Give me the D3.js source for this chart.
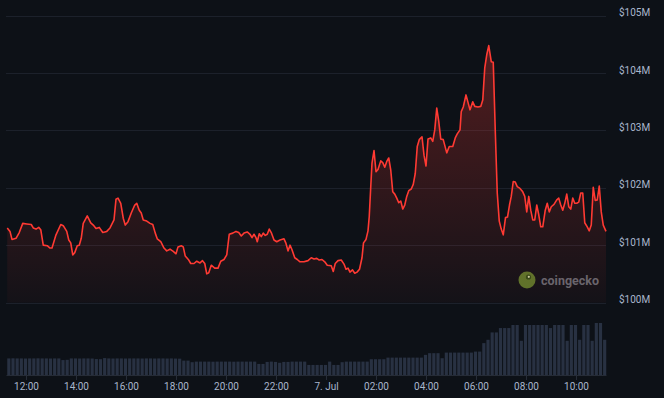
<!DOCTYPE html>
<html>
<head>
<meta charset="utf-8">
<script src="https://cdn.jsdelivr.net/npm/d3@7"></script>
<style>
  html, body { margin: 0; padding: 0; background: #0d1117; }
  svg { display: block; font-family: Roboto, "Liberation Sans", sans-serif; }
</style>
</head>
<body>
<svg></svg>
<script>
const width = 664;
const height = 398;

// hours after 12:00 on 6 Jul
const hours = [
  -0.75, -0.64, -0.56, -0.40, -0.27, -0.13, 0.03, 0.21, 0.29, 0.40, 0.51, 0.59, 0.69, 0.85, 0.96, 1.04,
  1.20, 1.39, 1.49, 1.63, 1.71, 1.79, 1.87, 1.95, 2.05, 2.13, 2.21, 2.29, 2.45, 2.59, 2.69, 2.80,
  2.93, 3.07, 3.23, 3.36, 3.52, 3.60, 3.68, 3.79, 3.89, 3.97, 4.08, 4.21, 4.35, 4.43, 4.53, 4.61,
  4.69, 4.83, 4.96, 5.07, 5.17, 5.25, 5.39, 5.52, 5.63, 5.76, 5.89, 6.00, 6.08, 6.21, 6.29, 6.37,
  6.51, 6.59, 6.72, 6.83, 6.96, 7.06, 7.15, 7.23, 7.31, 7.41, 7.55, 7.68, 7.79, 7.92, 8.03, 8.13,
  8.27, 8.40, 8.51, 8.61, 8.72, 8.85, 8.96, 9.04, 9.12, 9.20, 9.25, 9.33, 9.41, 9.49, 9.57, 9.65,
  9.73, 9.81, 9.92, 10.03, 10.16, 10.32, 10.40, 10.48, 10.56, 10.64, 10.75, 10.85, 10.96, 11.12, 11.28, 11.41,
  11.52, 11.63, 11.73, 11.84, 11.95, 12.05, 12.21, 12.29, 12.37, 12.48, 12.61, 12.72, 12.80, 12.88, 12.96, 13.06,
  13.15, 13.24, 13.34, 13.44, 13.50, 13.60, 13.68, 13.73, 13.79, 13.84, 13.92, 14.00, 14.08, 14.19, 14.27, 14.35,
  14.43, 14.51, 14.59, 14.67, 14.75, 14.83, 14.91, 14.99, 15.07, 15.15, 15.23, 15.31, 15.41, 15.49, 15.57, 15.65,
  15.73, 15.84, 15.92, 16.00, 16.08, 16.19, 16.27, 16.35, 16.43, 16.51, 16.59, 16.69, 16.83, 16.93, 17.07, 17.17,
  17.25, 17.36, 17.41, 17.49, 17.60, 17.68, 17.76, 17.87, 17.95, 18.08, 18.19, 18.27, 18.35, 18.43, 18.51, 18.61,
  18.69, 18.77, 18.85, 18.93, 19.01, 19.09, 19.18, 19.26, 19.34, 19.41, 19.49, 19.57, 19.65, 19.76, 19.87, 19.95,
  20.03, 20.11, 20.19, 20.27, 20.35, 20.43, 20.51, 20.59, 20.67, 20.77, 20.85, 20.93, 21.01, 21.12, 21.23, 21.31,
  21.39, 21.47, 21.55, 21.63, 21.71, 21.79, 21.87, 21.95, 22.03, 22.11, 22.19, 22.27, 22.35, 22.45, 22.53, 22.61,
  22.69, 22.77, 22.85, 22.93, 23.01, 23.09, 23.20
];

// market cap, $M
const price = [
  101.30, 101.24, 101.10, 101.12, 101.22, 101.38, 101.37, 101.36, 101.30, 101.28, 101.31, 101.27, 101.00, 100.99, 100.95, 100.95,
  101.18, 101.36, 101.34, 101.24, 101.09, 101.04, 100.83, 100.87, 100.99, 101.00, 101.12, 101.38, 101.51, 101.39, 101.35, 101.29,
  101.31, 101.22, 101.24, 101.30, 101.44, 101.80, 101.82, 101.73, 101.47, 101.35, 101.41, 101.56, 101.70, 101.73, 101.61, 101.56,
  101.44, 101.42, 101.38, 101.36, 101.21, 101.11, 101.06, 100.95, 100.90, 100.93, 100.89, 100.85, 100.97, 100.99, 100.97, 100.81,
  100.74, 100.68, 100.68, 100.72, 100.69, 100.73, 100.68, 100.50, 100.52, 100.65, 100.60, 100.60, 100.72, 100.75, 100.83, 101.19,
  101.21, 101.24, 101.22, 101.16, 101.21, 101.23, 101.19, 101.13, 101.19, 101.13, 101.06, 101.20, 101.15, 101.21, 101.17, 101.19,
  101.28, 101.22, 101.09, 101.06, 101.09, 101.11, 101.03, 100.90, 101.00, 100.92, 100.78, 100.75, 100.71, 100.71, 100.73, 100.78,
  100.76, 100.77, 100.74, 100.75, 100.71, 100.65, 100.64, 100.54, 100.68, 100.73, 100.74, 100.67, 100.58, 100.60, 100.53, 100.57,
  100.51, 100.53, 100.58, 100.78, 101.04, 101.10, 101.25, 101.50, 102.02, 102.43, 102.65, 102.28, 102.32, 102.47, 102.44, 102.36,
  102.46, 102.52, 102.31, 101.93, 101.89, 101.82, 101.74, 101.77, 101.63, 101.70, 101.85, 101.95, 101.98, 102.06, 102.25, 102.72,
  102.84, 102.89, 102.57, 102.38, 102.85, 102.87, 102.81, 103.01, 103.39, 103.16, 102.85, 102.84, 102.61, 102.72, 102.72, 102.87,
  102.94, 103.01, 103.33, 103.41, 103.62, 103.49, 103.36, 103.50, 103.42, 103.41, 103.42, 103.53, 104.09, 104.32, 104.48, 104.20,
  104.19, 103.01, 101.91, 101.42, 101.28, 101.18, 101.48, 101.49, 101.70, 101.85, 102.11, 102.10, 102.02, 101.99, 101.93, 101.85,
  101.58, 101.85, 101.61, 101.44, 101.44, 101.70, 101.53, 101.32, 101.32, 101.61, 101.73, 101.58, 101.67, 101.71, 101.79, 101.82,
  101.70, 101.61, 101.73, 101.89, 101.67, 101.63, 101.82, 101.73, 101.73, 101.75, 101.91, 101.91, 101.39, 101.32, 101.25, 101.35,
  102.01, 101.78, 101.79, 102.03, 101.58, 101.35, 101.24
];

// 24h volume, $M, one bar per 10 minutes from 11:20
const volStart = -2 / 3;
const volume = [
  3.33, 3.35, 3.33, 3.33, 3.31, 3.33, 3.33, 3.35, 3.33, 3.33, 3.31, 3.33, 3.33, 3.00, 3.05, 3.33,
  3.33, 3.31, 3.33, 3.33, 3.31, 3.20, 3.18, 3.40, 3.33, 3.31, 3.33, 3.33, 3.31, 3.33, 3.33, 3.33,
  3.31, 3.33, 3.33, 3.31, 3.33, 3.33, 3.31, 3.33, 3.30, 3.28, 2.89, 2.89, 2.57, 2.69, 2.69, 2.69,
  2.69, 2.67, 2.69, 2.69, 2.69, 2.69, 2.67, 2.69, 2.69, 2.69, 2.69, 2.69, 2.22, 2.22, 2.63, 2.69,
  2.63, 2.45, 2.63, 2.63, 2.69, 2.69, 2.69, 2.69, 2.02, 2.02, 2.02, 2.02, 2.02, 2.69, 2.02, 2.02,
  2.57, 2.69, 2.69, 2.69, 2.69, 2.69, 2.69, 3.17, 3.17, 3.17, 3.17, 3.49, 3.49, 3.49, 3.49, 3.49,
  3.49, 3.49, 3.49, 3.49, 4.04, 4.38, 4.38, 4.38, 3.37, 4.50, 4.50, 4.50, 4.50, 4.50, 4.50, 4.50,
  4.70, 4.70, 6.40, 7.07, 8.55, 8.55, 9.43, 9.43, 9.43, 10.04, 10.04, 6.87, 10.04, 10.04, 10.04, 10.04,
  10.04, 10.04, 9.43, 10.04, 10.04, 10.04, 6.87, 10.04, 10.04, 7.07, 10.04, 10.04, 6.87, 10.44, 10.44, 7.07
];

const priceTicks = [100, 101, 102, 103, 104, 105];

const base = new Date(2024, 6, 6, 12, 0);
const toDate = h => new Date(base.getTime() + h * 3600e3);

const data = hours.map((h, i) => ({ t: toDate(h), p: price[i] }));
const bars = volume.map((v, i) => ({ t: toDate(volStart + i / 6), v: v }));

const svg = d3.select("svg")
  .attr("width", width)
  .attr("height", height);

svg.append("rect")
  .attr("width", width)
  .attr("height", height)
  .attr("fill", "#0d1117");

const x = d3.scaleTime()
  .domain([toDate(-0.8), toDate(23.2)])
  .range([6, 606]);

const y = d3.scaleLinear()
  .domain([100, 105])
  .range([302.5, 15.8]);

const yVol = d3.scaleLinear()
  .domain([0, d3.max(volume)])
  .range([375, 323]);

// gradient under the line
const grad = svg.append("defs").append("linearGradient")
  .attr("id", "fillGrad")
  .attr("gradientUnits", "userSpaceOnUse")
  .attr("x1", 0).attr("x2", 0)
  .attr("y1", y(105)).attr("y2", y(100));
grad.append("stop").attr("offset", 0).attr("stop-color", "#ff3a33").attr("stop-opacity", 0.32);
grad.append("stop").attr("offset", 1).attr("stop-color", "#ff3a33").attr("stop-opacity", 0.03);

// grid lines
svg.append("g")
  .selectAll("line")
  .data(priceTicks)
  .enter().append("line")
  .attr("x1", 6)
  .attr("x2", 606)
  .attr("y1", d => Math.round(y(d)) + 0.5)
  .attr("y2", d => Math.round(y(d)) + 0.5)
  .attr("stroke", "#1c212b")
  .attr("stroke-width", 1);

// y labels
svg.append("g")
  .selectAll("text")
  .data(priceTicks)
  .enter().append("text")
  .attr("x", 619)
  .attr("y", d => y(d) + 0.5)
  .attr("fill", "#a9b6cd")
  .attr("font-size", 10)
  .text(d => "$" + d + "M");

// watermark
const wm = svg.append("g").attr("transform", "translate(527,280)");
wm.append("circle").attr("r", 8.5).attr("fill", "#58752a");
wm.append("circle").attr("cx", 1.5).attr("cy", -3).attr("r", 2.6).attr("fill", "#2f4a17");
wm.append("circle").attr("cx", 1.8).attr("cy", -3.2).attr("r", 1.1).attr("fill", "#c9d6a4");
wm.append("text")
  .attr("x", 14)
  .attr("y", 4.5)
  .attr("fill", "#62676f")
  .attr("font-size", 12.5)
  .attr("font-weight", "bold")
  .text("coingecko");

// area + line
svg.append("path")
  .datum(data)
  .attr("fill", "url(#fillGrad)")
  .attr("d", d3.area()
    .x(d => x(d.t))
    .y0(y(100))
    .y1(d => y(d.p)));

svg.append("path")
  .datum(data)
  .attr("fill", "none")
  .attr("stroke", "#ff3a33")
  .attr("stroke-width", 1.6)
  .attr("stroke-linejoin", "round")
  .attr("d", d3.line()
    .x(d => x(d.t))
    .y(d => y(d.p)));

// volume bars
const barW = x(toDate(1 / 6)) - x(toDate(0));
svg.append("g")
  .selectAll("rect")
  .data(bars)
  .enter().append("rect")
  .attr("x", d => x(d.t) - barW / 2)
  .attr("width", barW - 1)
  .attr("y", d => yVol(d.v))
  .attr("height", d => yVol(0) - yVol(d.v))
  .attr("fill", "#283142");

// x axis
const fmtHour = d3.timeFormat("%H:%M");
const fmtDay = d3.timeFormat("%-d. %b");
const xAxis = svg.append("g")
  .attr("transform", "translate(0,375)")
  .call(d3.axisBottom(x)
    .ticks(d3.timeHour.every(2))
    .tickSize(5)
    .tickSizeOuter(0)
    .tickFormat(d => d.getHours() === 0 ? fmtDay(d) : fmtHour(d)));

xAxis.select(".domain").attr("stroke", "#262c37");
xAxis.selectAll(".tick line").attr("stroke", "#262c37");
xAxis.selectAll(".tick text")
  .attr("fill", "#a9b6cd")
  .attr("font-size", 10)
  .attr("font-family", "Roboto, 'Liberation Sans', sans-serif");
</script>
</body>
</html>
